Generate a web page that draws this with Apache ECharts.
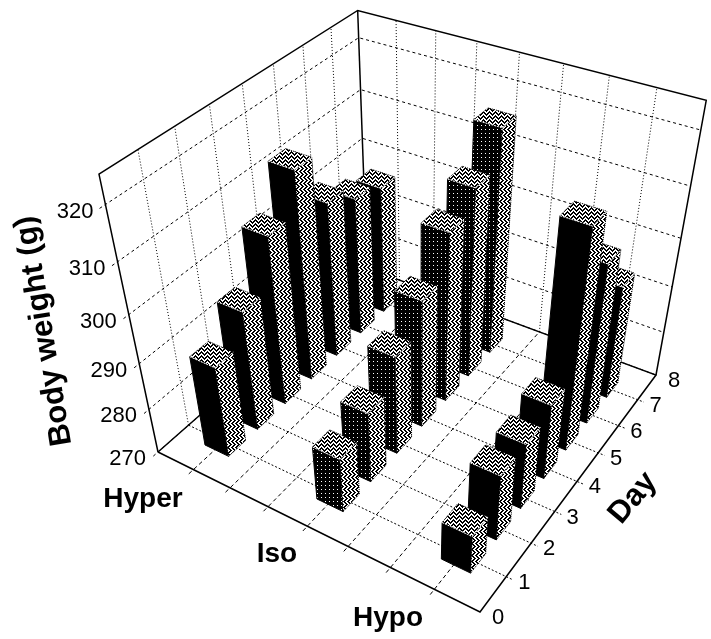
<!DOCTYPE html>
<html><head><meta charset="utf-8">
<style>html,body{margin:0;padding:0;background:#fff}#c{width:711px;height:639px}</style>
<script src="https://cdn.jsdelivr.net/npm/echarts@6/dist/echarts.min.js"></script>
</head><body><div id="c"></div>
<script>
const days = [1,2,3,4,5,6,7];
const groups = ['Hyper','Iso','Hypo'];
const groupSlots = [1,4,7];
const hyper = [290,296,306,314,303.5,300,298];
const iso = [282,285.5,291.5,297.5,306,310,317];
const hypo = [278.5,284.5,284.5,286.5,315.5,304,294.5];
const weightTicks = [270,280,290,300,310,320];
const dayTicks = [0,1,2,3,4,5,6,7,8];
const slotTicks = [0,1,2,3,4,5,6,7,8];
const weightMin = 270, weightMax = 325;

// perspective box: corners of the floor and the vertical vanishing point
const A=[158,452],B=[480,612],C=[656,375],D=[367,268],VP=[418,1676],K=-0.185;
const dx1=B[0]-C[0],dx2=D[0]-C[0],sx=A[0]-B[0]+C[0]-D[0];
const dy1=B[1]-C[1],dy2=D[1]-C[1],sy=A[1]-B[1]+C[1]-D[1];
const det=dx1*dy2-dx2*dy1;
const g=(sx*dy2-dx2*sy)/det,h=(dx1*sy-sx*dy1)/det;
const a=B[0]-A[0]+g*B[0],b=D[0]-A[0]+h*D[0],c=A[0];
const d=B[1]-A[1]+g*B[1],e=D[1]-A[1]+h*D[1],f=A[1];
function proj(slot,day,val){
  const u=slot/8,v=day/8,t=K*(val-weightMin)/(weightMax-weightMin);
  const w=g*u+h*v+1+t;
  return [(a*u+b*v+c+t*VP[0])/w,(d*u+e*v+f+t*VP[1])/w];
}
function tile(size,fn){
  const cv=document.createElement('canvas');cv.width=cv.height=size;
  const x=cv.getContext('2d');x.fillStyle='#000';x.fillRect(0,0,size,size);x.fillStyle='#fff';
  for(let i=0;i<size;i++)for(let j=0;j<size;j++)if(fn(i,j))x.fillRect(i,j,1,1);
  return {image:cv,repeat:'repeat'};
}
const tri=n=>{n=n%6;return n<3?n:6-n;};
const zigH=tile(12,(i,j)=>(j+tri(i))%4<2);
const zigV=tile(12,(i,j)=>(i+tri(j))%4<2);
const dots=tile(4,(i,j)=>i===1&&j===1);

const gridSeg=[];
weightTicks.forEach(w=>{
  gridSeg.push({p:[[0,-0.15,w],[0,8,w],[8,8,w]],dash:[3,3]});
});
dayTicks.slice(1,8).forEach(n=>{
  gridSeg.push({p:[[0,n,weightMin],[0,n,weightMax]],dash:[1,2]});
  gridSeg.push({p:[[0,n,weightMin],[8.15,n,weightMin]],dash:[2,2]});
});
slotTicks.slice(1,8).forEach(n=>{
  gridSeg.push({p:[[n,8,weightMin],[n,8,weightMax]],dash:[1,2]});
  gridSeg.push({p:[[n,-0.15,weightMin],[n,8,weightMin]],dash:[4,3]});
});
const frame=[
 [[0,0,weightMin],[8,0,weightMin],[8,8,weightMin],[0,8,weightMin],[0,0,weightMin]],
 [[0,0,weightMin],[0,0,weightMax],[0,8,weightMax],[8,8,weightMax],[8,8,weightMin]],
 [[0,8,weightMin],[0,8,weightMax]]
];
const barRows=[];
[hyper,iso,hypo].forEach((vals,r)=>{
  for(let i=days.length-1;i>=0;i--)barRows.push([groupSlots[r],days[i],vals[i],r]);
});
const HX=0.33,HD=0.29;
const labels=[];
weightTicks.forEach(w=>{const p=proj(0,0,w);labels.push({text:String(w),x:p[0]-12,y:p[1]+7,size:22,weight:'normal',align:'right'});});
dayTicks.forEach(n=>{const p=proj(8,n,weightMin);labels.push({text:String(n),x:p[0]+18,y:p[1]+6,size:22,weight:'normal',align:'center'});});
labels.push({text:'Hyper',x:143,y:499,size:28,weight:'bold',align:'center'});
labels.push({text:'Iso',x:277,y:554,size:28,weight:'bold',align:'center'});
labels.push({text:'Hypo',x:388,y:618,size:28,weight:'bold',align:'center'});
labels.push({text:'Day',x:633,y:498,size:31,weight:'bold',align:'center',rot:50*Math.PI/180});
labels.push({text:'Body weight (g)',x:44,y:331,size:31,weight:'bold',align:'center',rot:99.3*Math.PI/180});

const chart=echarts.init(document.getElementById('c'),null,{renderer:'canvas'});
chart.setOption({
 animation:false,backgroundColor:'#fff',
 series:[
  {type:'custom',coordinateSystem:'none',silent:true,z:1,data:gridSeg.map((s,i)=>[i]),
   renderItem(p,api){const s=gridSeg[api.value(0)];
    return {type:'polyline',shape:{points:s.p.map(q=>proj(q[0],q[1],q[2]))},
      style:{fill:null,stroke:'#000',lineWidth:1,lineDash:s.dash}};}},
  {type:'custom',coordinateSystem:'none',silent:true,z:2,data:frame.map((s,i)=>[i]),
   renderItem(p,api){const s=frame[api.value(0)];
    return {type:'polyline',shape:{points:s.map(q=>proj(q[0],q[1],q[2]))},
      style:{fill:null,stroke:'#000',lineWidth:1.5}};}},
  {type:'custom',coordinateSystem:'none',silent:true,z:3,data:barRows,
   renderItem(p,api){
    const s=api.value(0)+0.05,dd=api.value(1),v=api.value(2),r=api.value(3);
    const P=(i,j,z)=>proj(s+i*HX,dd+j*HD,z);
    const lo=weightMin;
    const front=r===1?dots:'#000';
    return {type:'group',children:[
      {type:'polygon',shape:{points:[P(-1,-1,lo),P(1,-1,lo),P(1,-1,v),P(-1,-1,v)]},style:{fill:front,stroke:'#000',lineWidth:1}},
      {type:'polygon',shape:{points:[P(1,-1,lo),P(1,1,lo),P(1,1,v),P(1,-1,v)]},style:{fill:zigV,stroke:'#000',lineWidth:1,lineDash:[1,1]}},
      {type:'polygon',shape:{points:[P(-1,-1,v),P(1,-1,v),P(1,1,v),P(-1,1,v)]},style:{fill:zigH,stroke:'#000',lineWidth:1,lineDash:[1,1]}},
      {type:'polyline',shape:{points:[P(-1,-1,v),P(1,-1,v),P(1,1,v)]},style:{fill:null,stroke:'#fff',lineWidth:1,lineDash:[2,1]}}
    ]};}},
  {type:'custom',coordinateSystem:'none',silent:true,z:4,data:labels.map((s,i)=>[i]),
   renderItem(p,api){const s=labels[api.value(0)];
    return {type:'text',x:s.x,y:s.y,rotation:s.rot||0,
      style:{text:s.text,x:0,y:0,fill:'#000',align:s.align,verticalAlign:'middle',
       font:s.weight+' '+s.size+'px "Liberation Sans", Arial, sans-serif'}};}}
 ]
});
</script></body></html>
